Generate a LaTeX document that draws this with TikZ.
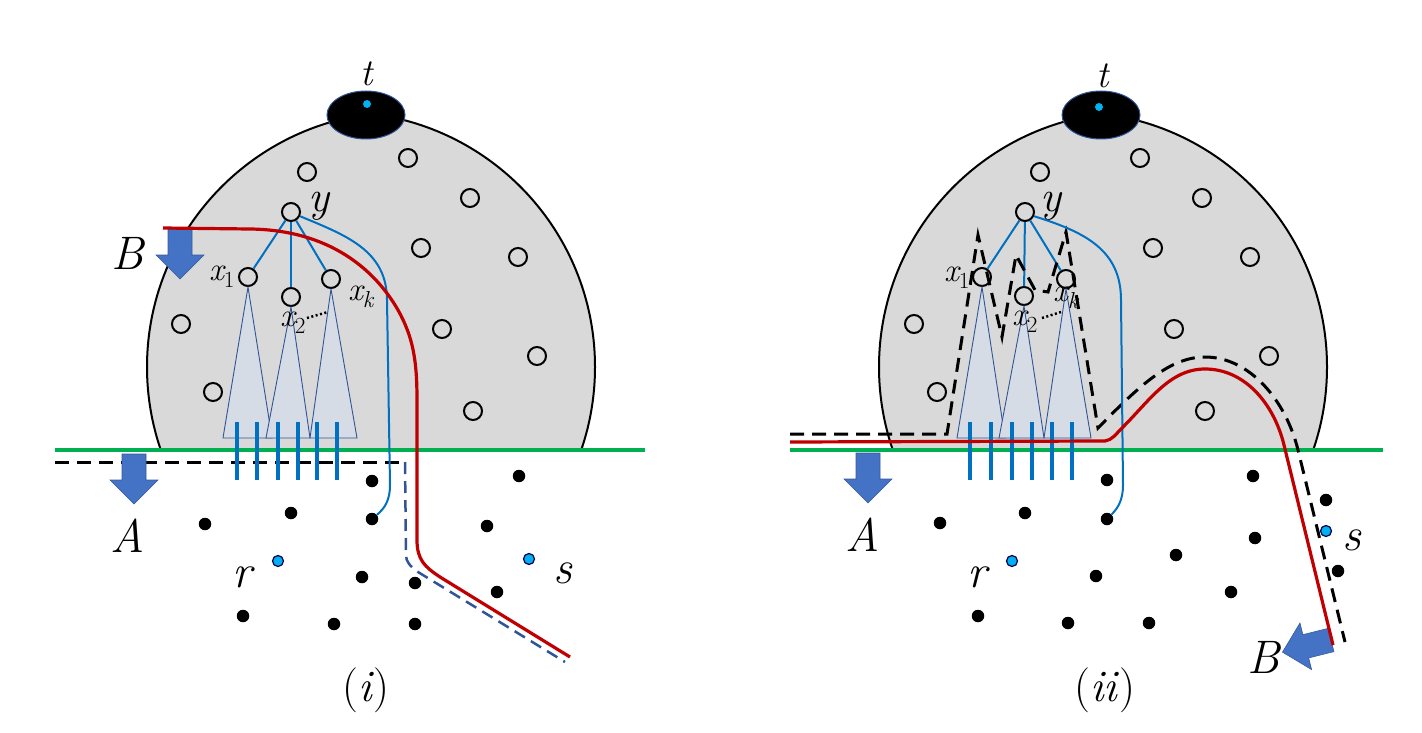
\documentclass[tikz,border=0pt]{standalone}
\usepackage{fontspec}
\definecolor{domegray}{HTML}{D9D9D9}
\definecolor{treeblue}{HTML}{0070C0}
\definecolor{pathred}{HTML}{C00000}
\definecolor{lgreen}{HTML}{00B050}
\definecolor{trifill}{HTML}{D6DCE5}
\definecolor{tridraw}{HTML}{2F5597}
\definecolor{arrowblue}{HTML}{4472C4}
\definecolor{cyanblue}{HTML}{00B0F0}
\definecolor{dashblue}{HTML}{2F5597}
\tikzset{
 oc/.style={circle,draw=black,line width=2pt,minimum size=18pt,inner sep=0pt},
 bd/.style={circle,fill=black,minimum size=12.5pt,inner sep=0pt},
 cd/.style={circle,fill=cyanblue,draw=black!70!blue,line width=1.2pt,minimum size=11pt,inner sep=0pt},
 treeedge/.style={draw=treeblue,line width=2pt},
 tri/.style={fill=trifill,draw=tridraw,line width=0.9pt},
 leaf/.style={draw=treeblue,line width=3.2pt},
 bluecurve/.style={draw=treeblue,line width=2pt},
 redpath/.style={draw=pathred,line width=3.2pt},
 bdash/.style={draw=black,line width=3pt,dash pattern=on 14pt off 8pt},
 bluedash/.style={draw=dashblue,line width=2.5pt,dash pattern=on 12pt off 7pt},
 greenline/.style={draw=lgreen,line width=3.5pt},
 barrow/.style={fill=arrowblue,draw=arrowblue!80!black,line width=0.6pt},
 domeline/.style={draw=black,line width=2pt},
 topnode/.style={fill=black,draw=tridraw,line width=1pt},
 biglab/.style={font=\fontsize{47}{47}\selectfont\itshape,inner sep=0pt},
 ylab/.style={font=\fontsize{44}{44}\selectfont\itshape,inner sep=0pt},
 xlab/.style={font=\fontsize{33}{33}\selectfont\itshape,inner sep=0pt},
 tlab/.style={font=\fontsize{38}{38}\selectfont\itshape,inner sep=0pt},
 plab/.style={font=\fontsize{45}{45}\selectfont,inner sep=0pt},
 dotline/.style={draw=black,line width=2.5pt,dash pattern=on 2pt off 2.5pt},
 blockarrow/.pic={\path[barrow] (-12,0) -- (12,0) -- (12,26) -- (24,26) -- (0,50) -- (-24,26) -- (-12,26) -- cycle;}
}
\newcommand\sbs[1]{\textsubscript{\upshape #1}}
% Gothic-arch dome: intersection of two discs, cut at the ground line
\newcommand\mydome[1]{%
  \begin{scope}
    \clip (0,0) rectangle (1422,450);
    \begin{scope}
      \clip (#1-31,367) circle (255);
      \fill[domegray] (#1+31,367) circle (255);
      \draw[domeline] (#1+31,367) circle (255);
    \end{scope}
    \begin{scope}
      \clip (#1+31,367) circle (255);
      \draw[domeline] (#1-31,367) circle (255);
    \end{scope}
  \end{scope}}
\begin{document}
\begin{tikzpicture}[x=1pt,y=-1pt]
\useasboundingbox (0,0) rectangle (1422,733);
% ---------- domes ----------
\mydome{371}
\mydome{1103}
\path[topnode] (366,115) ellipse [x radius=39, y radius=24];
\path[topnode] (1101,115) ellipse [x radius=39, y radius=24];
\node[cd,minimum size=8pt,line width=0pt,draw=none] (lt) at (367,104) {};
\node[cd,minimum size=8pt,line width=0pt,draw=none] (rt) at (1099,107) {};
\node[tlab] (ltl) at (367,74) {t};
\node[tlab] (rtl) at (1103,76) {t};
% ---------- open circles ----------
\foreach \p [count=\i] in {(307,172),(408,158),(470,198),(421,248),(518,257),(181,324),(442,329),(537,356),(213,392),(473,411)}
  \node[oc] (lc\i) at \p {};
\foreach \p [count=\i] in {(1040,172),(1140,158),(1202,198),(1153,248),(1250,257),(914,324),(1174,329),(1269,356),(937,392),(1205,411)}
  \node[oc] (rc\i) at \p {};
% ---------- trees ----------
\node[oc] (ly) at (291,212) {};
\node[oc] (lx1) at (248,277) {};
\node[oc] (lx2) at (291,297) {};
\node[oc] (lxk) at (331,279) {};
\node[oc] (ry) at (1025,212) {};
\node[oc] (rx1) at (982,277) {};
\node[oc] (rx2) at (1024,296) {};
\node[oc] (rxk) at (1066,279) {};
\path[tri] (lx1.south) -- (223,438) -- (272,438) -- cycle;
\path[tri] (lx2.south) -- (266,438) -- (310,438) -- cycle;
\path[tri] (lxk.south) -- (310,438) -- (357,438) -- cycle;
\path[tri] (rx1.south) -- (957,438) -- (1005,438) -- cycle;
\path[tri] (rx2.south) -- (999,438) -- (1044,438) -- cycle;
\path[tri] (rxk.south) -- (1044,438) -- (1091,438) -- cycle;
\draw[treeedge] (ly) -- (lx1);
\draw[treeedge] (ly) -- (lx2);
\draw[treeedge] (ly) -- (lxk);
\draw[treeedge] (ry) -- (rx1);
\draw[treeedge] (ry) -- (rx2);
\draw[treeedge] (ry) -- (rxk);
\node[ylab] (lyl) at (319,206) {y};
\node[ylab] (ryl) at (1051,206) {y};
\node[xlab] (lx1l) at (222,277) {x\sbs{1}};
\node[xlab] (lx2l) at (293,323) {x\sbs{2}};
\node[xlab] (lxkl) at (361,297) {x\textsubscript{k}};
\node[xlab] (rx1l) at (957,278) {x\sbs{1}};
\node[xlab] (rx2l) at (1025,322) {x\sbs{2}};
\node[xlab] (rxkl) at (1066,298) {x\textsubscript{k}};
\coordinate (ldo1) at (307,318); \coordinate (ldo2) at (328,312);
\coordinate (rdo1) at (1042,318); \coordinate (rdo2) at (1061,312);
\draw[dotline] (ldo1) -- (ldo2);
\draw[dotline] (rdo1) -- (rdo2);
% ---------- dots ----------
\foreach \p [count=\i] in {(372,481),(291,513),(205,524),(372,519),(362,577),(415,583),(243,616),(334,624),(415,624),(519,476),(487,526),(497,592)}
  \node[bd] (ld\i) at \p {};
\foreach \p [count=\i] in {(1107,480),(1025,513),(940,523),(1107,519),(1096,576),(1176,555),(978,616),(1068,623),(1149,623),(1253,476),(1326,500),(1255,538),(1338,571),(1231,592)}
  \node[bd] (rd\i) at \p {};
\node[cd] (lr) at (278,561) {};
\node[cd] (ls) at (529,559) {};
\node[cd] (rr) at (1012,561) {};
\node[cd] (rs) at (1326,531) {};
% ---------- boundary lines ----------
\coordinate (lg1) at (55,450); \coordinate (lg2) at (645,450);
\coordinate (rg1) at (790,450); \coordinate (rg2) at (1383,450);
\draw[greenline] (lg1) -- (lg2);
\draw[greenline] (rg1) -- (rg2);
\coordinate (lbd1) at (55,462); \coordinate (lbd2) at (404,462);
\draw[bdash] (lbd1) -- (lbd2);
% right dashed route
\coordinate (rbd0) at (790,434);
\coordinate (rbd9) at (1345,642);
\draw[bdash] (rbd0) -- (947,434) -- (978,235) -- (1002,337) -- (1016,255) -- (1035,290) -- (1048,292) -- (1066,232) -- (1098,428)
  .. controls (1140,385) and (1170,357) .. (1205,357)
  .. controls (1250,357) and (1286,401) .. (1298,450) -- (rbd9);
% ---------- leaf edges ----------
\foreach \x in {237,257,278,298,317,337} \draw[leaf] (\x,422) -- (\x,480);
\foreach \x in {970,991,1012,1032,1052,1072} \draw[leaf] (\x,422) -- (\x,480);
% ---------- blue curves ----------
\draw[bluecurve] (ly.-25) .. controls (345,235) and (387,250) .. (387,300) -- (390,485) .. controls (390,500) and (385,508) .. (ld4);
\draw[bluecurve] (ry.-25) .. controls (1085,232) and (1121,250) .. (1121,300) -- (1123,485) .. controls (1123,500) and (1118,508) .. (rd4);
% blue dashed
\coordinate (lbl1) at (405,462); \coordinate (lbl2) at (565,662);
\draw[bluedash] (lbl1) -- (406,555) .. controls (406,562) and (410,566) .. (418,572) -- (lbl2);
% ---------- arrows ----------
\pic at (180,229) {blockarrow};
\pic at (134,454) {blockarrow};
\pic at (868,453) {blockarrow};
\pic[rotate=-76] at (1331,640) {blockarrow};
% ---------- red paths ----------
\coordinate (lred1) at (163,228); \coordinate (lred2) at (570,657);
\draw[redpath] (lred1) -- (250,229) .. controls (330,230) and (375,270) .. (398,310) .. controls (413,337) and (417,360) .. (417,400) -- (417,540) .. controls (417,560) and (425,567) .. (440,577) -- (lred2);
\coordinate (rred1) at (790,442); \coordinate (rred2) at (1333,645);
\draw[redpath] (rred1) -- (1105,441) .. controls (1112,440) and (1115,435) .. (1123,427) .. controls (1150,400) and (1170,369) .. (1205,369) .. controls (1245,369) and (1274,404) .. (1284,445) -- (rred2);
% ---------- labels ----------
\node[biglab] (lA) at (128,536) {A};
\node[biglab] (lB) at (128,253) {B};
\node[biglab] (rA) at (863,535) {A};
\node[biglab] (rB) at (1264,657) {B};
\node[biglab] (lrl) at (242,577) {r};
\node[biglab] (lsl) at (563,573) {s};
\node[biglab] (rrl) at (977,577) {r};
\node[biglab] (rsl) at (1352,540) {s};
\node[plab] (li) at (366,690) {(\textit{i})};
\node[plab] (rii) at (1105,690) {(\textit{ii})};
\end{tikzpicture}
\end{document}
